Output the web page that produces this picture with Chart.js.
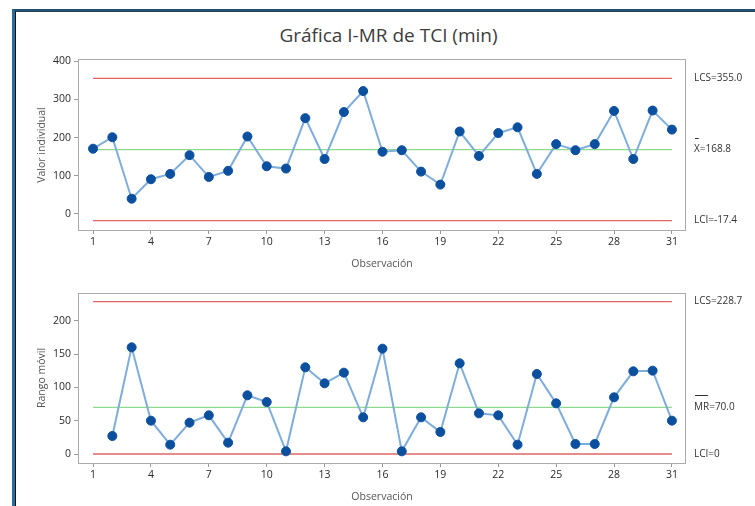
<!DOCTYPE html>
<html lang="es">
<head>
  <meta charset="UTF-8" />
  <title>Gráfica I-MR de TCI (min)</title>
  <script src="https://cdn.jsdelivr.net/npm/chart.js"></script>
  <style>
    html, body { margin: 0; padding: 0; background: #fff; }
    body { width: 755px; height: 506px; position: relative; overflow: hidden; font-family: "Open Sans", "Noto Sans", sans-serif; }
    .frame { position: absolute; left: 12px; top: 9px; width: 760px; height: 510px; border-top: 2px solid #1f5275; border-left: 3px solid #2a6d9c; }
    .frame-inner { position: absolute; left: 0; top: 0; right: 0; bottom: 0; border-top: 1px solid #2b3f4f; border-left: 1px solid #111; }
    .title { position: absolute; left: 22px; width: 733px; top: 22px; text-align: center; font-size: 19px; color: #3d3d3d; }
    .ytitle { position: absolute; left: 41px; font-size: 10.5px; color: #555; white-space: nowrap;
              transform: translate(-50%, -50%) rotate(-90deg); }
    canvas { position: absolute; left: 0; }
    #iChart { top: 40px; }
    #mrChart { top: 280px; }
  </style>
</head>
<body>
  <div class="frame"><div class="frame-inner"></div></div>
  <div class="title">Gráfica I-MR de TCI (min)</div>
  <canvas id="iChart" width="755" height="235"></canvas>
  <canvas id="mrChart" width="755" height="226"></canvas>
  <div class="ytitle" style="top:144.5px">Valor individual</div>
  <div class="ytitle" style="top:378px">Rango móvil</div>

  <script>
    // Observation numbers
    const obs = [1, 2, 3, 4, 5, 6, 7, 8, 9, 10, 11, 12, 13, 14, 15, 16,
                 17, 18, 19, 20, 21, 22, 23, 24, 25, 26, 27, 28, 29, 30, 31];

    // Individual values (min)
    const indiv = [171, 201, 40, 91, 105, 154, 97, 113, 203, 125, 119, 251, 144, 267, 322, 163,
                   167, 111, 77, 216, 152, 212, 227, 105, 183, 167, 183, 270, 144, 271, 221];

    // Moving range (first observation has none)
    const movRange = [null, 27, 160, 50, 14, 47, 58, 17, 88, 78, 4, 130, 106, 122, 55, 158,
                      4, 55, 33, 136, 61, 58, 14, 120, 76, 15, 15, 85, 124, 125, 50];

    // Control limits: LCS, center, LCI
    const iLimits = [355.0, 168.8, -17.4];
    const mrLimits = [228.7, 70.0, 0];

    // Tick labels
    const xTicks = [1, 4, 7, 10, 13, 16, 19, 22, 25, 28, 31];
    const iTicks = [0, 100, 200, 300, 400];
    const mrTicks = [0, 50, 100, 150, 200];

    const FONT = '"Open Sans", "Noto Sans", sans-serif';
    const RED = '#e06464';
    const GREEN = '#8ed98e';

    // Draws plot frame, x title and limit labels
    const decorPlugin = {
      id: 'decor',
      afterDraw(chart, args, opts) {
        const ctx = chart.ctx;
        const a = chart.chartArea;
        const y = chart.scales.y;
        ctx.save();
        ctx.strokeStyle = '#ababab';
        ctx.lineWidth = 1;
        ctx.strokeRect(Math.round(a.left) + 0.5, Math.round(a.top) + 0.5,
                       Math.round(a.width) - 1, Math.round(a.height));

        ctx.fillStyle = '#555';
        ctx.font = '10.5px ' + FONT;
        ctx.textAlign = 'center';
        ctx.textBaseline = 'middle';
        ctx.fillText('Observación', (a.left + a.right) / 2, a.bottom + 34);

        // limit labels
        ctx.fillStyle = '#333';
        ctx.font = '10px ' + FONT;
        ctx.textAlign = 'left';
        const lx = 694;
        opts.labels.forEach((lab, i) => {
          const py = y.getPixelForValue(opts.limits[i]);
          ctx.fillText(lab.text, lx, py);
          if (lab.bar) {
            const w = ctx.measureText(lab.bar).width;
            ctx.fillRect(lx + 1, Math.round(py - 12), w - 2, 1);
          }
        });
        ctx.restore();
      }
    };

    function limitLine(value, color) {
      return {
        data: [{ x: obs[0], y: value }, { x: obs[obs.length - 1], y: value }],
        borderColor: color,
        backgroundColor: color,
        borderWidth: 1.3,
        pointRadius: 0,
        fill: false,
        order: 2
      };
    }

    function makeChart(id, values, limits, ticks, yMin, yMax, padTop, xHeight, labels) {
      const pts = [];
      obs.forEach((o, i) => { if (values[i] !== null) pts.push({ x: o, y: values[i] }); });
      return new Chart(document.getElementById(id).getContext('2d'), {
        type: 'line',
        data: {
          datasets: [
            {
              data: pts,
              borderColor: '#7eaddb',
              borderWidth: 2,
              pointRadius: 4.5,
              pointBackgroundColor: '#0b4f9f',
              pointBorderColor: '#0b4f9f',
              pointBorderWidth: 1,
              tension: 0,
              order: 1
            },
            limitLine(limits[0], RED),
            limitLine(limits[1], GREEN),
            limitLine(limits[2], RED)
          ]
        },
        options: {
          responsive: false,
          animation: false,
          devicePixelRatio: 1,
          layout: { padding: { top: padTop, right: 69, left: 0, bottom: 0 } },
          plugins: {
            legend: { display: false },
            tooltip: { enabled: false },
            decor: { limits: limits, labels: labels }
          },
          scales: {
            x: {
              type: 'linear',
              min: 0.22,
              max: 31.73,
              afterBuildTicks: s => { s.ticks = xTicks.map(v => ({ value: v })); },
              afterFit: s => { s.height = xHeight; },
              border: { display: false },
              grid: { drawOnChartArea: false, drawTicks: true, tickLength: 4, color: '#9a9a9a' },
              ticks: { color: '#2a2a2a', font: { family: FONT, size: 10.5 }, padding: 2, maxRotation: 0, autoSkip: false }
            },
            y: {
              min: yMin,
              max: yMax,
              afterBuildTicks: s => { s.ticks = ticks.map(v => ({ value: v })); },
              afterFit: s => { s.width = 78; },
              border: { display: false },
              grid: { drawOnChartArea: false, drawTicks: true, tickLength: 4, color: '#9a9a9a' },
              ticks: { color: '#2a2a2a', font: { family: FONT, size: 10.5 }, padding: 3 }
            }
          }
        },
        plugins: [decorPlugin]
      });
    }

    makeChart('iChart', indiv, iLimits, iTicks, -42, 406, 19, 45, [
      { text: 'LCS=355.0' },
      { text: 'X=168.8', bar: 'X' },
      { text: 'LCI=-17.4' }
    ]);

    makeChart('mrChart', movRange, mrLimits, mrTicks, -13.5, 241.5, 13, 43, [
      { text: 'LCS=228.7' },
      { text: 'MR=70.0', bar: 'MR' },
      { text: 'LCI=0' }
    ]);
  </script>
</body>
</html>
